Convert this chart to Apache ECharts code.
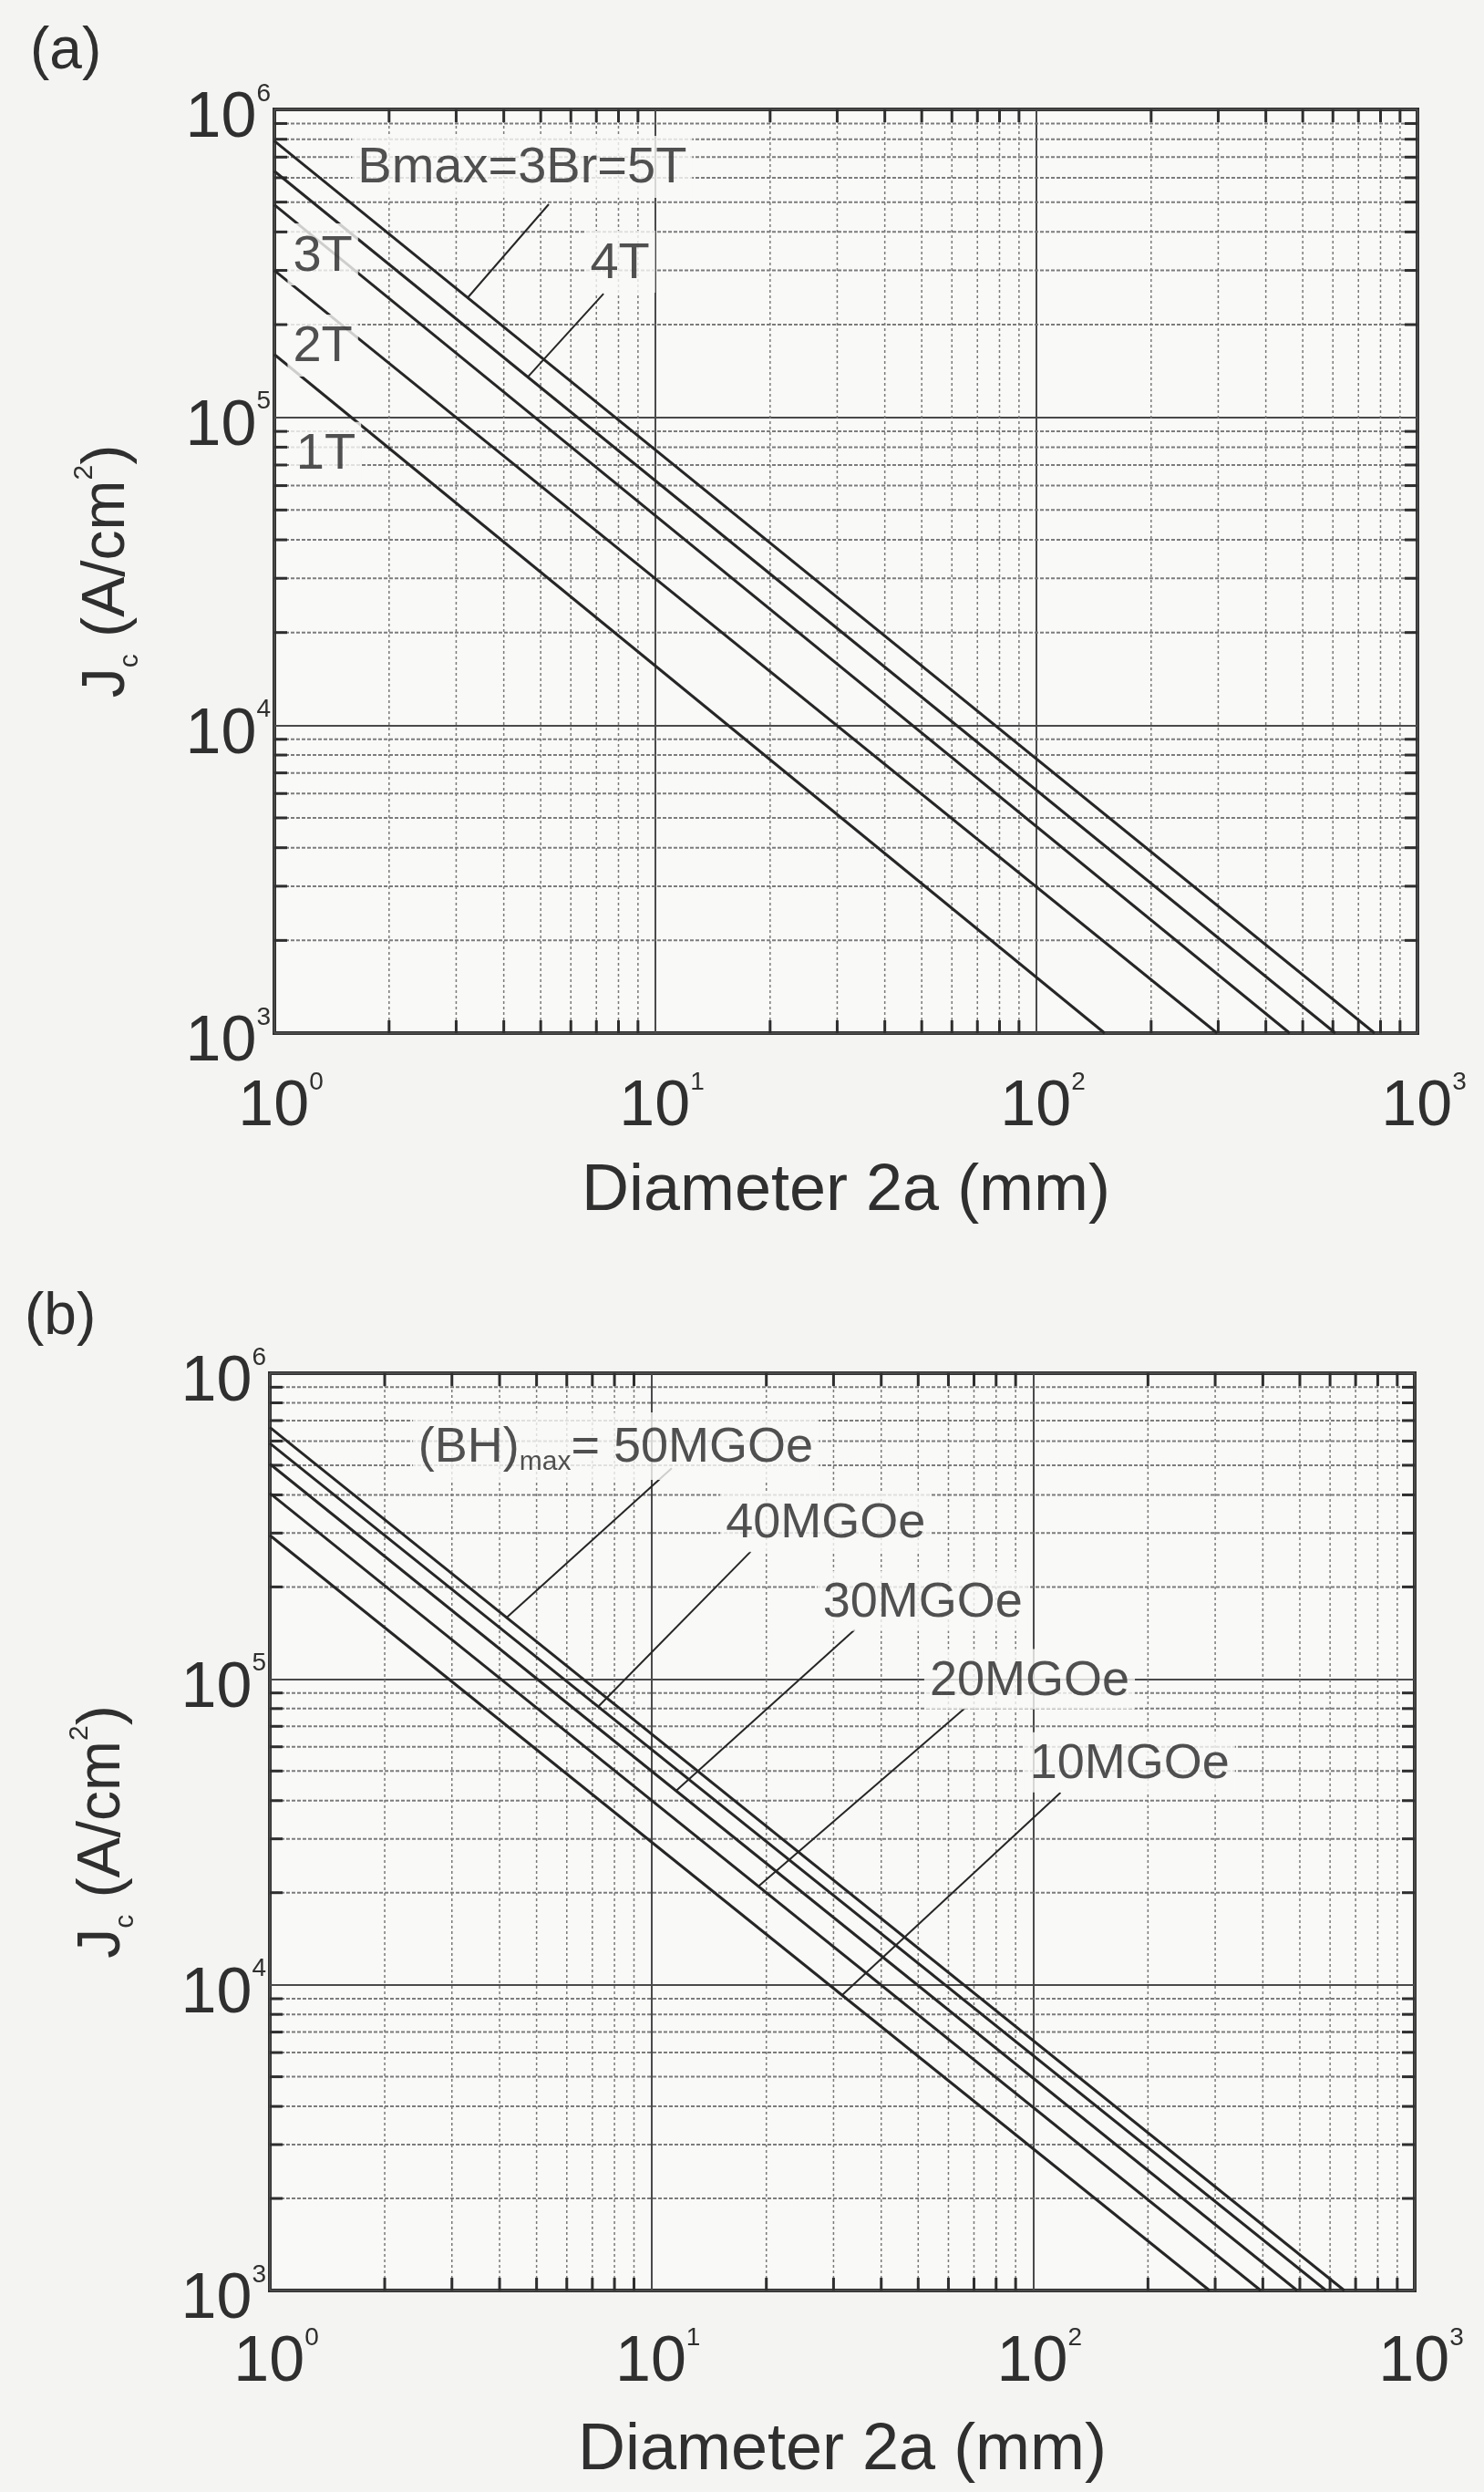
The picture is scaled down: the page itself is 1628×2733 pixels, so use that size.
<!DOCTYPE html>
<html>
<head>
<meta charset="utf-8">
<title>Jc vs diameter</title>
<script src="https://cdn.jsdelivr.net/npm/echarts@6/dist/echarts.min.js"></script>
<style>
  html, body { margin: 0; padding: 0; background: #f4f4f2; }
  #chart { width: 1628px; height: 2733px; }
</style>
</head>
<body>
<div id="chart"></div>
<script>
// ---- data ----
// (a) Bmax curves: Jc at 2a = 1 mm, and the diameter where Jc falls to 1e3
const fieldNames = ['5T', '4T', '3T', '2T', '1T']
const fieldStartJc = [7.9e5, 6.3e5, 4.9e5, 3.0e5, 1.6e5]
const fieldEndD = [772, 609, 462, 298, 151]

// (b) (BH)max curves
const energyNames = ['50MGOe', '40MGOe', '30MGOe', '20MGOe', '10MGOe']
const energyStartJc = [6.65e5, 5.9e5, 5.05e5, 4.05e5, 2.95e5]
const energyEndD = [654, 586, 492, 395, 290]

// annotations (data coordinates)
const fieldLabels = ['Bmax=3Br=5T', '4T', '3T', '2T', '1T']
const fieldLabelAt = [[4.47, 6.51e5], [8.07, 3.2e5], [1.34, 3.38e5], [1.34, 1.71e5], [1.365, 7.66e4]]
const fieldLeaders = [
  [[5.25, 4.92e5], [3.22, 2.45e5]],
  [[7.31, 2.52e5], [4.62, 1.35e5]],
]
const energyLabels = ['(BH)max= 50MGOe', '40MGOe', '30MGOe', '20MGOe', '10MGOe']
const energyLabelAt = [[8.06, 5.77e5], [28.6, 3.26e5], [51.4, 1.8e5], [97.9, 9.98e4], [179, 5.34e4]]
const energyLeaders = [
  [[11.3, 4.89e5], [4.18, 1.59e5]],
  [[18.2, 2.61e5], [7.24, 8.1e4]],
  [[34.1, 1.45e5], [11.6, 4.31e4]],
  [[66.1, 8.01e4], [19.1, 2.1e4]],
  [[118, 4.25e4], [31.6, 9.25e3]],
]

// axes: exponents shown on the decade labels
const xTickLabels = ['0', '1', '2', '3']
const yTickLabels = ['3', '4', '5', '6']
const xMinor = [2, 3, 4, 5, 6, 7, 8, 9, 20, 30, 40, 50, 60, 70, 80, 90, 200, 300, 400, 500, 600, 700, 800, 900]
const yMinor = [2e3, 3e3, 4e3, 5e3, 6e3, 7e3, 8e3, 9e3, 2e4, 3e4, 4e4, 5e4, 6e4, 7e4, 8e4, 9e4,
  2e5, 3e5, 4e5, 5e5, 6e5, 7e5, 8e5, 9e5]

// ---- styling ----
const FONT = '"Liberation Sans", Arial, Helvetica, sans-serif'
const INK = '#2f2f2f'
const PLOT_BG = '#f9f9f8'
const TICK_LEN = 14

const tickRich = {
  b: { fontSize: 70, lineHeight: 84, fontFamily: FONT, color: INK },
  e: { fontSize: 28, lineHeight: 28, verticalAlign: 'top', fontFamily: FONT, color: INK },
}

const decade = (v) => Math.round(Math.log10(v))

const makeXAxis = (gridIndex, nameGap, margin) => ({
  type: 'log',
  logBase: 10,
  min: 1,
  max: 1000,
  gridIndex,
  axisLine: { show: false },
  axisTick: { show: false },
  splitLine: { show: true, lineStyle: { color: '#4a4a4a', width: 2 } },
  axisLabel: {
    margin,
    padding: [0, 0, 0, 14],
    showMinLabel: true,
    showMaxLabel: true,
    formatter: (v) => `{b|10}{e|${xTickLabels[decade(v)]}}`,
    rich: tickRich,
  },
  name: 'Diameter 2a (mm)',
  nameLocation: 'middle',
  nameGap,
  nameMoveOverlap: false,
  nameTextStyle: { fontSize: 72, fontFamily: FONT, color: INK },
})

const makeYAxis = (gridIndex) => ({
  type: 'log',
  logBase: 10,
  min: 1000,
  max: 1e6,
  gridIndex,
  axisLine: { show: false },
  axisTick: { show: false },
  splitLine: { show: true, lineStyle: { color: '#4a4a4a', width: 2 } },
  axisLabel: {
    margin: 4,
    padding: [22, 0, 0, 0],
    showMinLabel: true,
    showMaxLabel: true,
    formatter: (v) => `{b|10}{e|${yTickLabels[decade(v) - 3]}}`,
    rich: tickRich,
  },
  name: '{j|J}{c|c}{t| (A/cm}{s|2}{t|)}',
  nameLocation: 'middle',
  nameRotate: 90,
  nameGap: 143,
  nameMoveOverlap: false,
  nameTextStyle: {
    rich: {
      j: { fontSize: 66, lineHeight: 80, fontFamily: FONT, color: INK },
      t: { fontSize: 66, lineHeight: 80, fontFamily: FONT, color: INK },
      c: { fontSize: 30, lineHeight: 30, verticalAlign: 'bottom', fontFamily: FONT, color: INK },
      s: { fontSize: 30, lineHeight: 30, verticalAlign: 'top', fontFamily: FONT, color: INK },
    },
  },
})

// minor grid lines plus inward ticks on both edges
const minorSeries = (gridIndex, values, dir) => ({
  type: 'custom',
  xAxisIndex: gridIndex,
  yAxisIndex: gridIndex,
  silent: true,
  z: 1,
  data: values.map((v) => (dir === 'x' ? [v, 1000] : [1, v])),
  renderItem: (params, api) => {
    const cs = params.coordSys
    const pt = api.coord([api.value(0), api.value(1)])
    const tick = { stroke: '#2e2e2e', lineWidth: 3 }
    if (dir === 'x') {
      const x = pt[0]
      return {
        type: 'group',
        children: [
          { type: 'line', shape: { x1: x, y1: cs.y, x2: x, y2: cs.y + cs.height },
            style: { stroke: '#7a7a7a', lineWidth: 1.5, lineDash: [3, 3] } },
          { type: 'line', shape: { x1: x, y1: cs.y, x2: x, y2: cs.y + TICK_LEN }, style: tick },
          { type: 'line', shape: { x1: x, y1: cs.y + cs.height, x2: x, y2: cs.y + cs.height - TICK_LEN }, style: tick },
        ],
      }
    }
    const y = pt[1]
    return {
      type: 'group',
      children: [
        { type: 'line', shape: { x1: cs.x, y1: y, x2: cs.x + cs.width, y2: y },
          style: { stroke: '#7c7c7c', lineWidth: 2, lineDash: [4, 2] } },
        { type: 'line', shape: { x1: cs.x, y1: y, x2: cs.x + TICK_LEN, y2: y }, style: tick },
        { type: 'line', shape: { x1: cs.x + cs.width, y1: y, x2: cs.x + cs.width - TICK_LEN, y2: y }, style: tick },
      ],
    }
  },
})

const curveSeries = (gridIndex, names, startJc, endD) =>
  names.map((name, i) => ({
    name,
    type: 'line',
    xAxisIndex: gridIndex,
    yAxisIndex: gridIndex,
    showSymbol: false,
    silent: true,
    z: 3,
    lineStyle: { color: '#262626', width: 3 },
    data: [[1, startJc[i]], [endD[i], 1000]],
  }))

const leaderSeries = (gridIndex, leaders) =>
  leaders.map((seg) => ({
    type: 'line',
    xAxisIndex: gridIndex,
    yAxisIndex: gridIndex,
    showSymbol: false,
    silent: true,
    z: 3,
    lineStyle: { color: '#262626', width: 2 },
    data: seg,
  }))

const labelSeries = (gridIndex, labels, at, fontSize, formatter) => ({
  type: 'scatter',
  xAxisIndex: gridIndex,
  yAxisIndex: gridIndex,
  symbolSize: 0,
  silent: true,
  z: 10,
  data: at.map((p, i) => ({ value: p, name: labels[i] })),
  label: {
    show: true,
    position: 'inside',
    formatter,
    fontSize,
    fontFamily: FONT,
    color: '#262626',
    textBorderWidth: 0,
    backgroundColor: PLOT_BG,
    padding: [8, 6, 4, 6],
    rich: {
      t: { fontSize, lineHeight: fontSize + 8, fontFamily: FONT, color: '#262626', textBorderWidth: 0 },
      s: { fontSize: 30, lineHeight: 30, verticalAlign: 'bottom', fontFamily: FONT, color: '#262626', textBorderWidth: 0 },
    },
  },
})

const chart = echarts.init(document.getElementById('chart'), null, { renderer: 'canvas' })

const gridBox = { show: true, backgroundColor: PLOT_BG, borderColor: '#2e2e2e', borderWidth: 4, containLabel: false }

chart.setOption({
  backgroundColor: '#f4f4f2',
  animation: false,
  title: [
    { text: '(a)', left: 28, top: 20, textStyle: { fontSize: 64, fontWeight: 'normal', fontFamily: FONT, color: INK } },
    { text: '(b)', left: 22, top: 1408, textStyle: { fontSize: 64, fontWeight: 'normal', fontFamily: FONT, color: INK } },
  ],
  grid: [
    { ...gridBox, left: 301, top: 120, width: 1254, height: 1013 },
    { ...gridBox, left: 296, top: 1506, width: 1256, height: 1006 },
  ],
  xAxis: [makeXAxis(0, 138, 40), makeXAxis(1, 140, 38)],
  yAxis: [makeYAxis(0), makeYAxis(1)],
  series: [
    minorSeries(0, xMinor, 'x'),
    minorSeries(0, yMinor, 'y'),
    minorSeries(1, xMinor, 'x'),
    minorSeries(1, yMinor, 'y'),
    ...curveSeries(0, fieldNames, fieldStartJc, fieldEndD),
    ...curveSeries(1, energyNames, energyStartJc, energyEndD),
    ...leaderSeries(0, fieldLeaders),
    ...leaderSeries(1, energyLeaders),
    labelSeries(0, fieldLabels, fieldLabelAt, 56, (p) => p.name),
    labelSeries(1, energyLabels, energyLabelAt, 54, (p) =>
      p.dataIndex === 0 ? '{t|(BH)}{s|max}{t|= 50MGOe}' : p.name),
  ],
})

window.addEventListener('resize', () => chart.resize())
</script>
</body>
</html>
